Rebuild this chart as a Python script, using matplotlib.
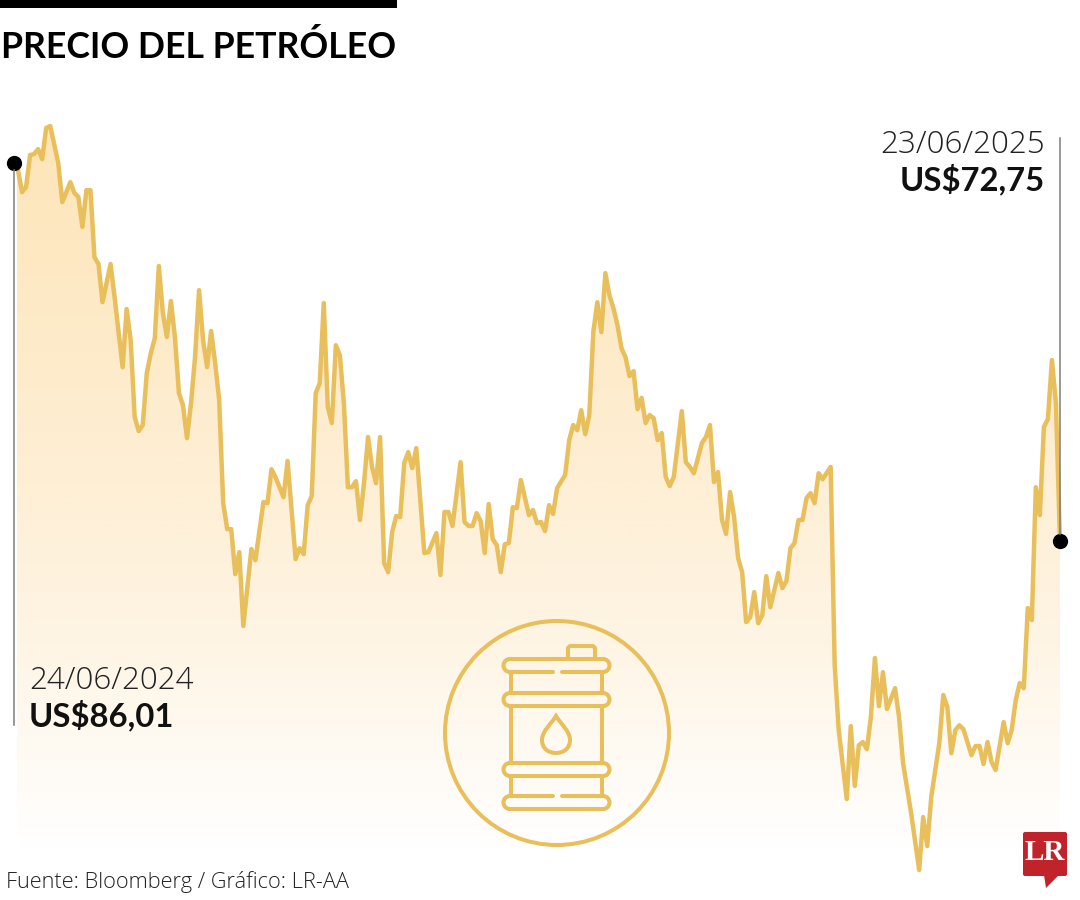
import numpy as np
import matplotlib
matplotlib.use('Agg')
import matplotlib.pyplot as plt
from matplotlib.colors import LinearSegmentedColormap
from matplotlib.patches import Arc, Circle, Rectangle, FancyBboxPatch, Polygon, PathPatch
from matplotlib.path import Path

# rueda = numero de dia de negociacion desde 24/06/2024
rueda = [0, 1, 2, 3, 4, 5, 6, 7, 8, 9, 11, 12, 14, 15, 16, 17, 18, 19, 20, 21, 22, 24, 25, 27, 28, 29, 30,
         31, 32, 33, 34, 35, 36, 37, 38, 39, 40, 41, 42, 43, 44, 45, 46, 47, 48, 49, 50, 51, 52, 53, 54,
         55, 56, 57, 59, 60, 62, 63, 64, 65, 67, 68, 69, 70, 71, 72, 73, 74, 75, 76, 77, 78, 79, 80, 81,
         82, 83, 84, 85, 86, 87, 88, 89, 90, 91, 92, 93, 94, 95, 96, 97, 98, 99, 100, 102, 103, 105, 106,
         107, 108, 109, 111, 112, 113, 114, 115, 116, 117, 118, 119, 120, 121, 122, 123, 124, 125, 126,
         128, 129, 130, 131, 132, 133, 134, 135, 137, 138, 139, 140, 141, 142, 143, 144, 145, 146, 147,
         148, 149, 150, 151, 152, 153, 154, 155, 156, 157, 158, 159, 160, 161, 162, 163, 164, 166, 167,
         168, 169, 171, 172, 173, 174, 175, 176, 177, 178, 179, 180, 181, 182, 183, 184, 185, 186, 187,
         188, 190, 191, 192, 193, 194, 195, 196, 197, 198, 199, 200, 201, 203, 204, 205, 207, 208, 209,
         210, 211, 212, 213, 214, 215, 216, 217, 219, 220, 221, 223, 225, 226, 227, 228, 230, 231, 232,
         233, 234, 235, 236, 238, 239, 240, 241, 242, 243, 244, 246, 247, 248, 249, 250, 251, 252, 253,
         254, 255, 256, 257, 258, 259, 260]

precio = [86.01, 85.76, 84.99, 85.17, 86.29, 86.33, 86.50, 86.15, 87.24, 87.31, 86.01, 84.64, 85.34, 84.96,
          84.82, 83.77, 85.06, 85.06, 82.71, 82.47, 81.13, 82.47, 81.31, 78.85, 80.89, 79.80, 77.10,
          76.61, 76.82, 78.64, 79.34, 79.87, 82.40, 80.75, 79.91, 81.17, 79.91, 77.94, 77.52, 76.36, 77.59,
          79.20, 81.55, 79.80, 78.85, 80.12, 79.00, 77.70, 74.08, 73.17, 73.17,
          71.59, 72.36, 69.77, 72.47, 72.08, 74.12, 74.08, 75.27, 74.99, 74.29, 75.56, 73.84, 72.12, 72.50,
          72.29, 74.01, 74.33, 77.94, 78.29, 81.10, 77.45, 76.89, 79.62, 79.27,
          77.59, 74.64, 74.64, 74.85, 73.49, 74.78, 76.40, 75.35, 74.78, 76.40, 71.98, 71.66, 73.07, 73.63,
          73.59, 75.49, 75.87, 75.31, 76.01, 72.33, 72.36, 73.03, 71.56,
          73.77, 73.77, 73.28, 75.52, 73.42, 73.28, 73.28, 73.73, 73.45, 72.33, 74.05, 72.82, 72.61, 71.66,
          72.64, 72.68, 73.94, 73.91, 74.89,
          73.66, 73.84, 73.38, 73.42, 73.10, 74.01, 73.70, 74.61, 75.07, 76.29, 76.82, 76.64, 77.34, 76.50,
          77.17, 80.08, 81.13, 80.08, 82.15,
          81.38, 80.92, 80.33, 79.52, 79.20, 78.54, 78.71, 77.38, 77.77, 76.89, 77.17, 77.06, 76.29, 76.54,
          75.00, 74.68, 75.00, 77.31, 75.52,
          75.35, 75.13, 76.19, 76.40, 76.82, 74.82, 75.17, 73.49, 73.00, 74.47, 73.59, 72.15, 71.66, 69.91,
          70.08, 70.96, 69.87, 70.15, 71.52,
          70.43, 71.63, 71.10, 71.35, 72.50, 72.68, 73.49, 73.49, 74.26, 74.43, 74.08, 75.13, 74.92, 75.35,
          68.40, 66.12, 63.70, 66.26, 64.16,
          65.59, 65.70, 65.45, 66.58, 68.65, 66.96, 68.15, 66.86, 67.59, 66.58, 64.96, 63.21, 61.21, 63.07,
          62.05, 63.77, 65.66, 67.35, 66.93,
          65.31, 66.12, 66.29, 66.15, 65.24, 65.56, 65.56, 64.93, 65.70, 65.00, 64.72, 66.40, 65.66, 66.12,
          67.17, 67.77, 67.59, 70.40, 69.98,
          74.64, 73.66, 76.75, 77.03, 79.10, 77.59, 72.75]

titulo = 'PRECIO DEL PETRÓLEO'
fuente = 'Fuente: Bloomberg / Gráfico: LR-AA'
fecha_ini, valor_ini = '24/06/2024', 'US$86,01'
fecha_fin, valor_fin = '23/06/2025', 'US$72,75'

oro = '#E8BF5B'
gris = '#7d7d7d'
rojo = '#C1232B'
letra = 'Lato'
fina = 'Open Sans'
lw_barril = 2.9

fig = plt.figure(figsize=(10.8, 9), dpi=100)
ax = fig.add_axes([0, 0, 1, 1])
ax.set_xlim(-3.48, 264.98)
ax.set_ylim(60.16, 91.73)
ax.axis('off')

# relleno degradado recortado bajo la curva
cmap = LinearSegmentedColormap.from_list('relleno', [(0, '#FDE5B8'), (0.42, '#FEEDD0'), (0.72, '#FEF5E5'),
                                                     (0.92, '#FFFCF8'), (1, '#FFFFFF')])
grad = np.linspace(0, 1, 256).reshape(-1, 1)
img = ax.imshow(grad, cmap=cmap, aspect='auto', origin='upper', extent=[0.75, 260, 61.92, 87.4], zorder=1)
borde = ax.fill_between(rueda, precio, 60.16, color='none')
img.set_clip_path(borde.get_paths()[0], transform=ax.transData)
ax.set_xlim(-3.48, 264.98)
ax.set_ylim(60.16, 91.73)

ax.plot(rueda, precio, color=oro, lw=3.2, solid_joinstyle='round', zorder=2)
ax.plot([rueda[0], rueda[-1]], [precio[0], precio[-1]], 'o', color='black', ms=11, mew=0, zorder=4)

# capa en pixeles para textos, guias, barril y logo
top = fig.add_axes([0, 0, 1, 1], facecolor='none')
top.set_xlim(0, 1080)
top.set_ylim(900, 0)
top.axis('off')

top.add_patch(Rectangle((0, 0), 397, 8, fc='black', ec='none'))
top.text(1, 47, titulo, family=letra, weight='bold', fontsize=25.7, color='black', va='center', ha='left')

top.plot([14, 14], [170, 725], color=gris, lw=1.1)
top.plot([1060, 1060], [138, 534], color=gris, lw=1.1)

top.text(29, 681, fecha_ini, family=fina, weight='light', fontsize=22.6, color='#222222', va='center', ha='left')
top.text(29, 715, valor_ini, family=letra, weight='bold', fontsize=23.7, color='#111111', va='center', ha='left')
top.text(1045, 145, fecha_fin, family=fina, weight='light', fontsize=22.6, color='#222222', va='center', ha='right')
top.text(1045, 179, valor_fin, family=letra, weight='bold', fontsize=23.7, color='#111111', va='center', ha='right')
top.text(6, 882, fuente, family=fina, weight='light', fontsize=15.7, color='#222222', va='center', ha='left')


def aro(y0, y1, corte_arriba=False, corte_abajo=False):
    # aro del barril: dos rectas y dos semicirculos
    x0, x1 = 510, 603
    r = (y1 - y0) / 2
    if corte_arriba:
        top.plot([x0, 553], [y0, y0], color=oro, lw=lw_barril, solid_capstyle='round')
        top.plot([562, x1], [y0, y0], color=oro, lw=lw_barril, solid_capstyle='round')
    else:
        top.plot([x0, x1], [y0, y0], color=oro, lw=lw_barril)
    if corte_abajo:
        top.plot([x0, 553], [y1, y1], color=oro, lw=lw_barril, solid_capstyle='round')
        top.plot([562, x1], [y1, y1], color=oro, lw=lw_barril, solid_capstyle='round')
    else:
        top.plot([x0, x1], [y1, y1], color=oro, lw=lw_barril)
    top.add_patch(Arc((x0, y0 + r), 2 * r, 2 * r, theta1=90, theta2=270, color=oro, lw=lw_barril))
    top.add_patch(Arc((x1, y0 + r), 2 * r, 2 * r, theta1=-90, theta2=90, color=oro, lw=lw_barril))


top.add_patch(Circle((557, 733), 112, fc='none', ec=oro, lw=2.9))
aro(659, 672, corte_abajo=True)
aro(693, 706)
aro(763, 776)
aro(796, 809, corte_arriba=True)
for xb in (511, 602):
    top.plot([xb, xb], [672, 693], color=oro, lw=lw_barril)
    top.plot([xb, xb], [706, 763], color=oro, lw=lw_barril)
    top.plot([xb, xb], [776, 796], color=oro, lw=lw_barril)

# tapon abierto por abajo
top.plot([568, 568, 570, 593, 595, 595], [659, 648, 646, 646, 648, 659], color=oro, lw=lw_barril,
         solid_joinstyle='round')

# gota
C4 = Path.CURVE4
gota = Path([(556, 716), (552, 723), (542, 731), (542, 740), (542, 748), (548, 753), (556, 753), (564, 753),
             (570, 748), (570, 740), (570, 731), (560, 723), (556, 716), (556, 716)],
            [Path.MOVETO, C4, C4, C4, C4, C4, C4, C4, C4, C4, C4, C4, C4, Path.CLOSEPOLY])
top.add_patch(PathPatch(gota, fc='none', ec=oro, lw=lw_barril))

# logo LR
top.add_patch(FancyBboxPatch((1023, 832), 44, 44, boxstyle='round,pad=0,rounding_size=2', fc=rojo, ec='none'))
top.add_patch(Polygon([(1044, 875), (1059, 875), (1046, 888)], fc=rojo, ec='none'))
top.text(1045, 852, 'LR', family='Liberation Serif', weight='bold', fontsize=21, color='white', va='center', ha='center')

fig.savefig('out.png', dpi=100)
